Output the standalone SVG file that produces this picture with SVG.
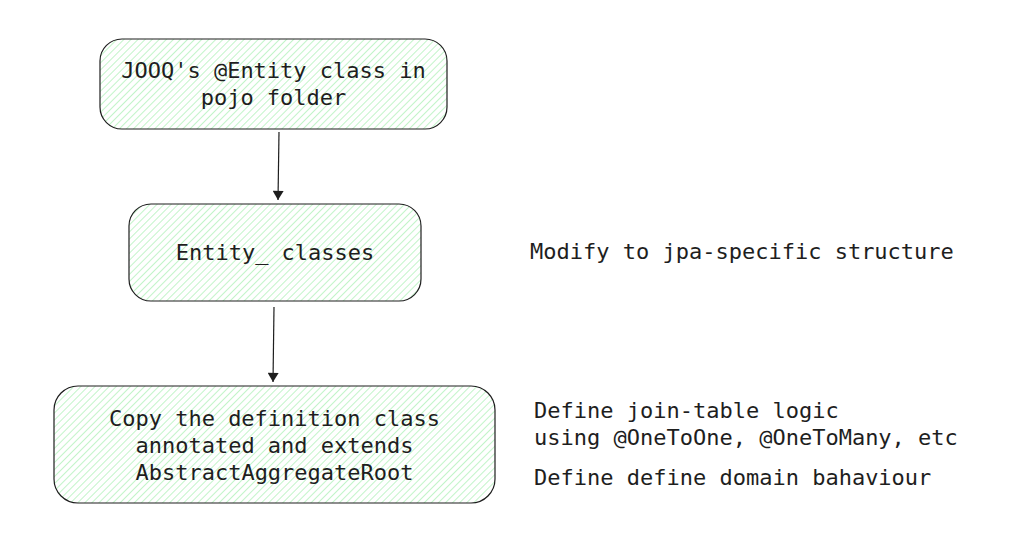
<svg xmlns="http://www.w3.org/2000/svg" width="1029" height="535" viewBox="0 0 1029 535">
<defs>
<pattern id="hatch" patternUnits="userSpaceOnUse" width="5" height="5" patternTransform="rotate(45)">
<line x1="0" y1="0" x2="0" y2="5" stroke="#b2f2bb" stroke-width="1.6"/>
</pattern>
<marker id="arrow" viewBox="0 0 10 12" refX="10" refY="6" markerWidth="12" markerHeight="11" markerUnits="userSpaceOnUse" orient="auto">
<path d="M0,0 L10,6 L0,12 Z" fill="#1e1e1e"/>
</marker>
</defs>
<style>
.box{fill:url(#hatch);stroke:#1e1e1e;stroke-width:1.2}
.t{font-family:"DejaVu Sans Mono","Liberation Mono",monospace;font-size:22px;fill:#1e1e1e}
.c{text-anchor:middle}
.edge{stroke:#1e1e1e;stroke-width:1.2;fill:none}
</style>
<rect width="1029" height="535" fill="#ffffff"/>
<g id="node-jooq">
<rect class="box" x="100" y="39" width="347" height="90" rx="22" ry="22"/>
<text class="t c" x="273.5" y="78">JOOQ's @Entity class in</text>
<text class="t c" x="273.5" y="105">pojo folder</text>
</g>
<g id="node-entity">
<rect class="box" x="129" y="204" width="292" height="97" rx="22" ry="22"/>
<text class="t c" x="275" y="260">Entity_ classes</text>
</g>
<g id="node-copy">
<rect class="box" x="54" y="386" width="441" height="117" rx="24" ry="24"/>
<text class="t c" x="274.5" y="426">Copy the definition class</text>
<text class="t c" x="274.5" y="453">annotated and extends</text>
<text class="t c" x="274.5" y="480">AbstractAggregateRoot</text>
</g>
<g id="connectors">
<line class="edge" x1="279" y1="132" x2="278" y2="200" marker-end="url(#arrow)"/>
<line class="edge" x1="274" y1="307" x2="273" y2="382" marker-end="url(#arrow)"/>
</g>
<g id="notes">
<text class="t" x="530" y="259">Modify to jpa-specific structure</text>
<text class="t" x="534" y="418">Define join-table logic</text>
<text class="t" x="534" y="445">using @OneToOne, @OneToMany, etc</text>
<text class="t" x="534" y="485">Define define domain bahaviour</text>
</g>
</svg>
